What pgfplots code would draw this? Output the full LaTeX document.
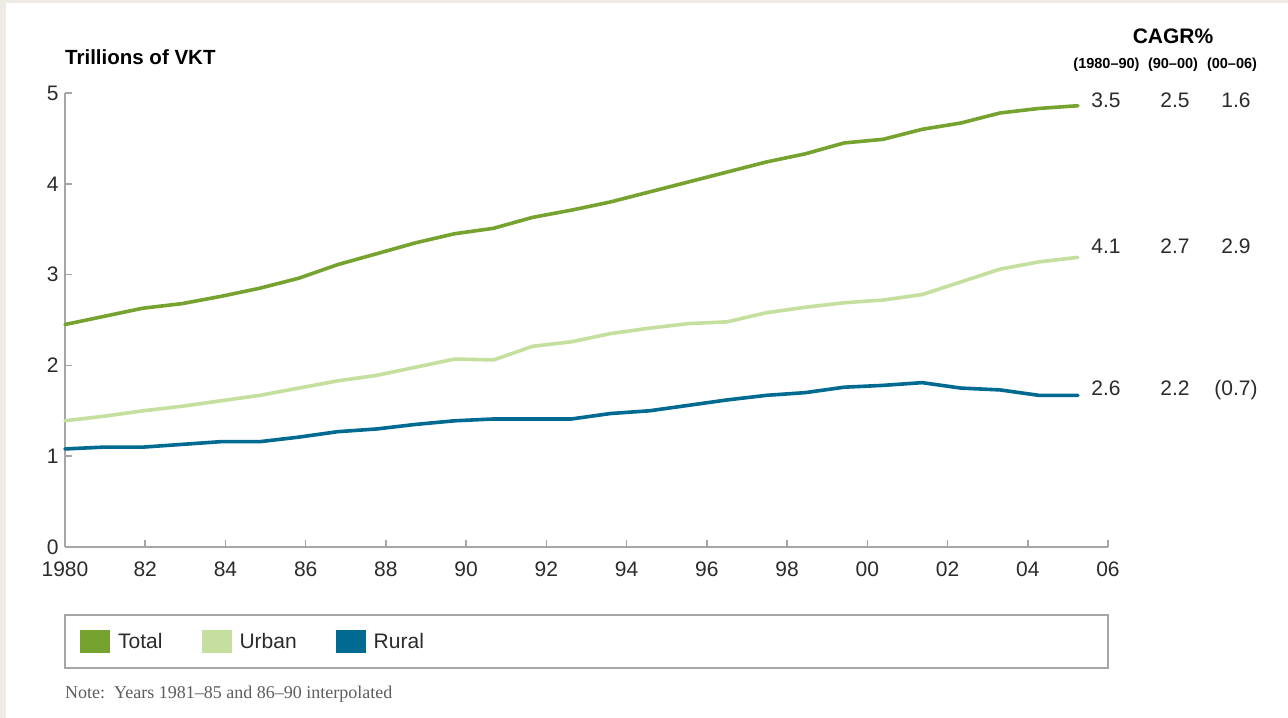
\documentclass[border=0pt]{standalone}
\usepackage{fontspec}
\setmainfont{Liberation Sans}
\newfontfamily\notefont{Liberation Serif}
\usepackage{pgfplots}
\usepackage{pgfplotstable}
\pgfplotsset{compat=1.18}
\definecolor{totalc}{HTML}{76A22F}
\definecolor{urbanc}{HTML}{C5E09E}
\definecolor{ruralc}{HTML}{006A90}
\definecolor{axisgray}{HTML}{A6A6A6}
\definecolor{txt}{HTML}{2B2B2B}
\definecolor{beige}{HTML}{EEEBE4}
\definecolor{notegray}{HTML}{5E5E5E}

\pgfplotstableread{
year total urban rural
1980 2.45 1.39 1.08
1981 2.54 1.44 1.10
1982 2.63 1.50 1.10
1983 2.68 1.55 1.13
1984 2.76 1.61 1.16
1985 2.85 1.67 1.16
1986 2.96 1.75 1.21
1987 3.11 1.83 1.27
1988 3.23 1.89 1.30
1989 3.35 1.98 1.35
1990 3.45 2.07 1.39
1991 3.51 2.06 1.41
1992 3.63 2.21 1.41
1993 3.71 2.26 1.41
1994 3.80 2.35 1.47
1995 3.91 2.41 1.50
1996 4.02 2.46 1.56
1997 4.13 2.48 1.62
1998 4.24 2.58 1.67
1999 4.33 2.64 1.70
2000 4.45 2.69 1.76
2001 4.49 2.72 1.78
2002 4.60 2.78 1.81
2003 4.67 2.92 1.75
2004 4.78 3.06 1.73
2005 4.83 3.14 1.67
2006 4.86 3.19 1.67
}\vkt

\begin{document}
\begin{tikzpicture}
\fill[beige] (0bp,0bp) rectangle (1288bp,718bp);
\fill[white] (6bp,0bp) rectangle (1288bp,715bp);
\begin{axis}[
  at={(65bp,171bp)}, anchor=south west,
  scale only axis, width=1043bp, height=454bp,
  xmin=1980, xmax=2006.771, ymin=0, ymax=5,
  axis x line=bottom, axis y line=left,
  axis line style={-, axisgray, line width=1.5bp},
  tick style={axisgray, line width=1.5bp},
  tick align=inside, major tick length=7bp,
  xtick={1980,1982.059,1984.119,1986.178,1988.237,1990.297,1992.356,1994.415,1996.474,1998.534,2000.593,2002.652,2004.712,2006.771},
  xticklabels={1980,82,84,86,88,90,92,94,96,98,00,02,04,06},
  ytick={0,1,2,3,4,5},
  /pgf/number format/assume math mode=true,
  ticklabel style={font=\fontsize{21bp}{25bp}\selectfont, text=txt},
  xticklabel style={yshift=-11bp},
  yticklabel style={xshift=-3bp},
  clip=false,
  legend columns=3,
  legend style={at={(0.01438,-0.2081)}, anchor=west, draw=none, fill=none,
    inner xsep=0pt, inner ysep=0pt,
    font=\fontsize{21bp}{25bp}\selectfont, text=txt,
    nodes={inner xsep=8bp},
    /tikz/every even column/.append style={column sep=31bp}},
  legend image code/.code={\path[#1, draw=none, fill] (0bp,-11.5bp) rectangle (30bp,11.5bp);},
]
\addplot[color=totalc, line width=3.6bp, line cap=round, line join=round] table[x=year, y=total] {\vkt};
\addlegendentry{Total}
\addplot[color=urbanc, line width=3.6bp, line cap=round, line join=round] table[x=year, y=urban] {\vkt};
\addlegendentry{Urban}
\addplot[color=ruralc, line width=3.6bp, line cap=round, line join=round] table[x=year, y=rural] {\vkt};
\addlegendentry{Rural}
\end{axis}
% legend frame
\draw[axisgray, line width=1.5bp] (65bp,103bp) rectangle (1108bp,50bp);
% titles
\node[anchor=base west, inner sep=0pt, font=\bfseries\fontsize{20.5bp}{24bp}\selectfont, text=black] at (65bp,653bp) {Trillions of VKT};
\node[anchor=base, inner sep=0pt, font=\bfseries\fontsize{21bp}{25bp}\selectfont, text=black] at (1173bp,674bp) {CAGR\%};
\node[anchor=base, inner sep=0pt, font=\bfseries\fontsize{14.5bp}{17bp}\selectfont, text=black] at (1106.5bp,649bp) {(1980–90)};
\node[anchor=base, inner sep=0pt, font=\bfseries\fontsize{14.5bp}{17bp}\selectfont, text=black] at (1173bp,649bp) {(90–00)};
\node[anchor=base, inner sep=0pt, font=\bfseries\fontsize{14.5bp}{17bp}\selectfont, text=black] at (1232bp,649bp) {(00–06)};
% CAGR values
\begin{scope}[every node/.style={anchor=base, inner sep=0pt, font=\fontsize{21bp}{25bp}\selectfont, text=txt}]
\node at (1106bp,610.7bp) {3.5};
\node at (1175bp,610.7bp) {2.5};
\node at (1236bp,610.7bp) {1.6};
\node at (1106bp,464.7bp) {4.1};
\node at (1175bp,464.7bp) {2.7};
\node at (1236bp,464.7bp) {2.9};
\node at (1106bp,322.3bp) {2.6};
\node at (1175bp,322.3bp) {2.2};
\node at (1236bp,322.3bp) {(0.7)};
\end{scope}
% note
\node[anchor=base west, inner sep=0pt, text=notegray, font=\notefont\fontsize{18bp}{21bp}\selectfont] at (65bp,20bp) {Note:\ \ Years 1981–85 and 86–90 interpolated};
\end{tikzpicture}
\end{document}
